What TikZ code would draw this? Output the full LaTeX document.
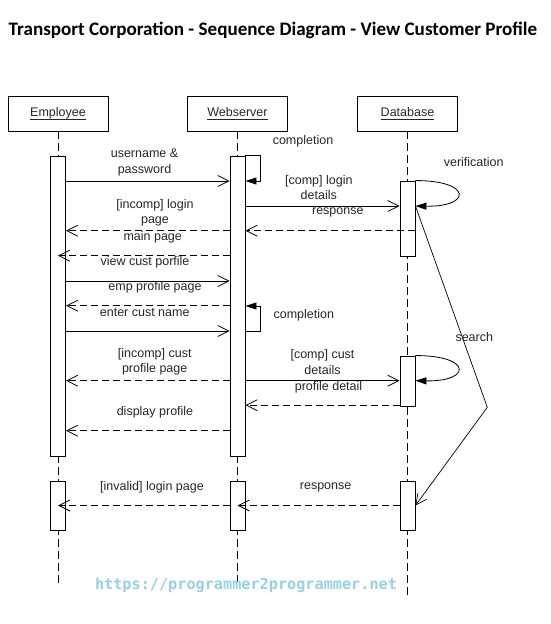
\documentclass[tikz,border=0pt]{standalone}
\usepackage{fontspec}
\setmainfont{Liberation Sans}
\newfontfamily\titlefont{Carlito}
\newfontfamily\webfont{DejaVu Sans Mono}
\colorlet{TextColor}{black!85}
\definecolor{WebColor}{RGB}{150,208,228}
\usetikzlibrary{arrows.meta}
\newcommand\lbl{\fontsize{12.5}{15.5}\selectfont}
\newcommand\nombre[1]{\setbox0\hbox{#1}\rlap{\usebox0}\rule[-3pt]{\wd0}{0.8pt}}
\tikzset{
    actor/.style={draw, line width=0.9pt, minimum width=100pt, minimum height=35pt,
        font=\lbl, text=TextColor},
    activation/.style={draw, fill=white, line width=0.9pt, minimum width=15pt, inner sep=0pt},
    lifeline/.style={dash pattern=on 8pt off 4pt, line width=0.8pt},
    call/.style={line width=0.8pt, -{Straight Barb[length=11pt, width=11pt]}},
    reply/.style={call, dash pattern=on 7pt off 4pt},
    self call/.style={line width=0.8pt, -{Triangle[length=11pt, width=7pt]}},
    msg/.style={font=\lbl, text=TextColor, align=center, inner sep=0pt}
}

\begin{document}
\begin{tikzpicture}[x=1pt, y=-1pt]

    \useasboundingbox (0,0) rectangle (550,624);

    \node[font=\titlefont\bfseries\fontsize{19.1}{22}\selectfont] (titulo) at (273,30)
        {Transport Corporation - Sequence Diagram - View Customer Profile};

    % Cabeceras y lineas de vida
    \node[actor] (emp) at (58,113.5) {\nombre{Employee}};
    \node[actor] (web) at (237.5,113.5) {\nombre{Webserver}};
    \node[actor] (db) at (407.5,113.5) {\nombre{Database}};

    \coordinate (empEnd) at (58,587);
    \coordinate (webEnd) at (237.5,583);
    \coordinate (dbEnd) at (407.5,595);

    \draw[lifeline] (emp) -- (empEnd);
    \draw[lifeline] (web) -- (webEnd);
    \draw[lifeline] (db) -- (dbEnd);

    % Activaciones
    \node[activation, minimum height=300pt] (empAct) at (58,306) {};
    \node[activation, minimum height=300pt] (webAct) at (237.5,306) {};
    \node[activation, minimum height=75pt] (dbAct) at (407.5,218.5) {};
    \node[activation, minimum height=50pt] (dbAct2) at (407.5,381) {};
    \node[activation, minimum height=49pt] (empAct2) at (58,505.5) {};
    \node[activation, minimum height=49pt] (webAct2) at (237.5,505.5) {};
    \node[activation, minimum height=49pt] (dbAct3) at (407.5,505.5) {};

    \coordinate (m1) at (0,181);
    \coordinate (m2) at (0,206);
    \coordinate (m3) at (0,230.7);
    \coordinate (m4) at (0,255.7);
    \coordinate (m5) at (0,281);
    \coordinate (m6) at (0,305.7);
    \coordinate (m7) at (0,331);
    \coordinate (m8) at (0,380.7);
    \coordinate (m9) at (0,405.2);
    \coordinate (m10) at (0,430.7);
    \coordinate (vuelta) at (487.3,407.3);

    % Mensajes
    \draw[call] (empAct.east |- m1) -- (webAct.west |- m1);
    \draw[self call] (webAct.north east) -- ++(15,0) |- (webAct.east |- m1);
    \draw[call] (webAct.east |- m2) -- (dbAct.west |- m2);
    \draw[self call] (dbAct.north east) .. controls +(57,0) and +(56,1) .. (dbAct.east |- m2);
    \draw[reply] (dbAct.east |- m3) -- (webAct.east |- m3);
    \draw[reply] (webAct.west |- m3) -- (empAct.east |- m3);
    \draw[reply] (webAct.west |- m4) -- (empAct.center |- m4);
    \draw[call] (empAct.east |- m5) -- (webAct.west |- m5);
    \draw[reply] (webAct.west |- m6) -- (empAct.east |- m6);
    \draw[call] (empAct.east |- m7) -- (webAct.west |- m7);
    \draw[self call] (webAct.east |- m7) -- ++(15,0) |- ([yshift=25pt]webAct.east |- m7);
    \draw[call] (webAct.east |- m8) -- (dbAct2.west |- m8);
    \draw[self call] (dbAct2.north east) .. controls +(57,0) and +(56,1) .. (dbAct2.east |- m8);
    \draw[reply] (webAct.west |- m8) -- (empAct.east |- m8);
    \draw[reply] (dbAct2.west |- m9) -- (webAct.east |- m9);
    \draw[reply] (webAct.west |- m10) -- (empAct.east |- m10);
    \draw[call, line width=0.7pt] (dbAct.east |- m2) -- (vuelta) -- (dbAct3.east);
    \draw[reply] (dbAct3.west) -- (webAct2.center);
    \draw[reply] (webAct2.west) -- (empAct2.center);

    % Etiquetas
    \node[msg] (tUser) at (144.5,162.5) {username \&\\password};
    \node[msg] (tComp1) at (303,141) {completion};
    \node[msg] (tLogin) at (318.8,187.3) {[comp] login\\details};
    \node[msg] (tVerif) at (473.7,162.3) {verification};
    \node[msg] (tResp1) at (337.8,212.3) {response};
    \node[msg] (tIncomp1) at (155,212.8) {[incomp] login\\page};
    \node[msg] (tMain) at (152.7,237.7) {main page};
    \node[msg] (tView) at (145,262.7) {view cust porfile};
    \node[msg] (tEmp) at (155,287.3) {emp profile page};
    \node[msg] (tEnter) at (144.7,312.3) {enter cust name};
    \node[msg] (tComp2) at (303.8,315) {completion};
    \node[msg] (tSearch) at (474.3,337.3) {search};
    \node[msg] (tCust) at (322.5,362) {[comp] cust\\details};
    \node[msg] (tIncomp2) at (154.7,362) {[incomp] cust\\profile page};
    \node[msg] (tDetail) at (328.5,387.3) {profile detail};
    \node[msg] (tDisplay) at (155,412.3) {display profile};
    \node[msg] (tInvalid) at (152,487.3) {[invalid] login page};
    \node[msg] (tResp2) at (325.6,487.3) {response};

    \node[font=\webfont\bfseries\fontsize{15.2}{18}\selectfont, text=WebColor] (sitio) at (246,585)
        {https://programmer2programmer.net};

\end{tikzpicture}
\end{document}
